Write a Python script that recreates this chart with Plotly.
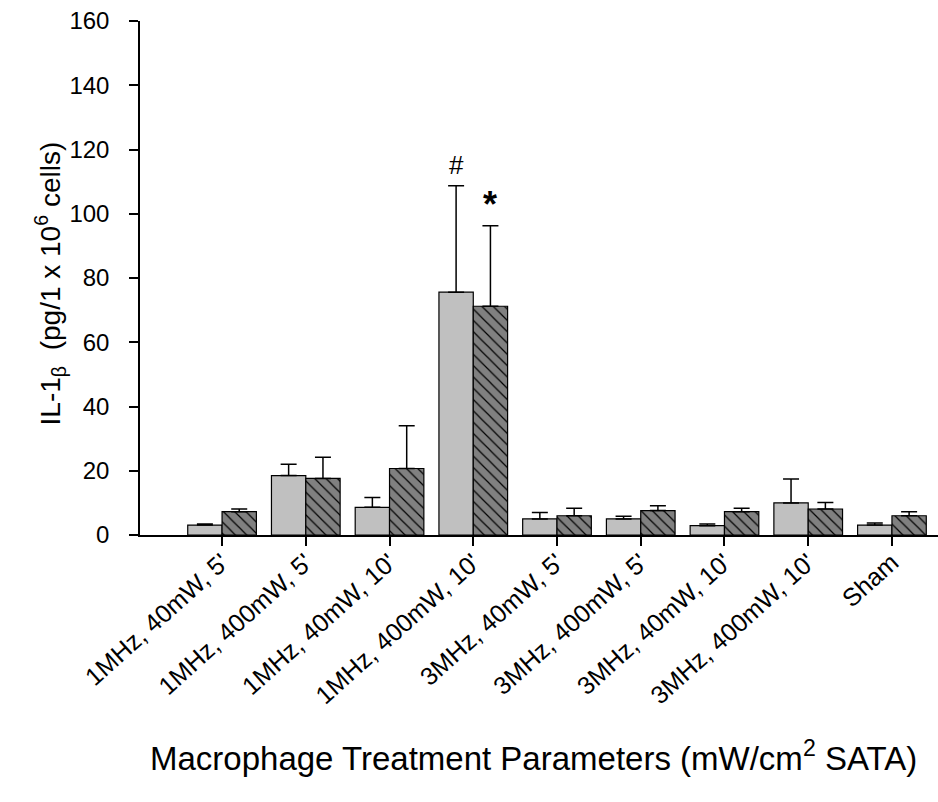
import plotly.graph_objects as go

categories = ["1MHz, 40mW, 5'", "1MHz, 400mW, 5'", "1MHz, 40mW, 10'", "1MHz, 400mW, 10'",
              "3MHz, 40mW, 5'", "3MHz, 400mW, 5'", "3MHz, 40mW, 10'", "3MHz, 400mW, 10'", "Sham"]
gray_values = [3.1, 18.5, 8.6, 75.6, 5.0, 5.0, 2.9, 10.0, 3.1]
gray_err = [0.3, 3.5, 3.1, 33.1, 2.0, 0.8, 0.5, 7.4, 0.6]
hatch_values = [7.25, 17.6, 20.7, 71.2, 6.0, 7.6, 7.25, 8.1, 6.0]
hatch_err = [0.85, 6.6, 13.3, 25.1, 2.3, 1.5, 1.05, 2.0, 1.25]
zeros = [0] * len(categories)

font_family = "Liberation Sans, Arial, sans-serif"

fig = go.Figure()
fig.add_trace(go.Bar(
    x=categories, y=gray_values, name="A",
    marker=dict(color="#c0c0c0", line=dict(color="black", width=1.2)),
    error_y=dict(type="data", symmetric=False, array=gray_err, arrayminus=zeros,
                 color="black", thickness=1.5, width=8),
))
fig.add_trace(go.Bar(
    x=categories, y=hatch_values, name="B",
    marker=dict(color="#808080", line=dict(color="black", width=1.2),
                pattern=dict(shape="\\", fgcolor="black", bgcolor="#808080",
                             size=8, solidity=0.15, fillmode="replace")),
    error_y=dict(type="data", symmetric=False, array=hatch_err, arrayminus=zeros,
                 color="black", thickness=1.5, width=8),
))

fig.update_layout(
    width=938, height=802,
    margin=dict(l=140, r=0, t=21, b=267),
    paper_bgcolor="white", plot_bgcolor="white",
    barmode="group", bargap=0.18, bargroupgap=0,
    showlegend=False,
    font=dict(family=font_family, color="black"),
)
fig.update_xaxes(
    type="category", range=[-0.98, 8.55],
    showline=True, linecolor="black", linewidth=2,
    ticks="outside", ticklen=9, tickwidth=1.5, tickcolor="black",
    tickangle=-42, tickfont=dict(size=25, family=font_family), ticklabelstandoff=-8,
    showgrid=False, zeroline=False,
)
fig.update_yaxes(
    range=[0, 160], dtick=20, tick0=0,
    showline=True, linecolor="black", linewidth=1.5,
    ticks="outside", ticklen=9, tickwidth=1.5, tickcolor="black",
    tickfont=dict(size=24, family=font_family), ticklabelstandoff=15,
    showgrid=False, zeroline=False,
)

fig.add_annotation(x=3, y=115.2, xref="x", yref="y", text="#", showarrow=False,
                   xshift=-17, font=dict(size=26, family=font_family))
fig.add_annotation(x=3, y=103.0, xref="x", yref="y", text="<b>*</b>", showarrow=False,
                   xshift=17, font=dict(size=36, family=font_family))

fig.add_annotation(x=-0.14, y=0.49, xref="paper", yref="paper", textangle=-90,
                   text="IL-1<sub>β</sub>  (pg/1 x 10<sup>6</sup> cells)", showarrow=False,
                   font=dict(size=28, family=font_family))
fig.add_annotation(x=0.4925, y=-0.475, xref="paper", yref="paper",
                   text="Macrophage Treatment Parameters (mW/cm<sup>2</sup> SATA)",
                   showarrow=False, font=dict(size=33, family=font_family))

fig.write_html("out.html")
